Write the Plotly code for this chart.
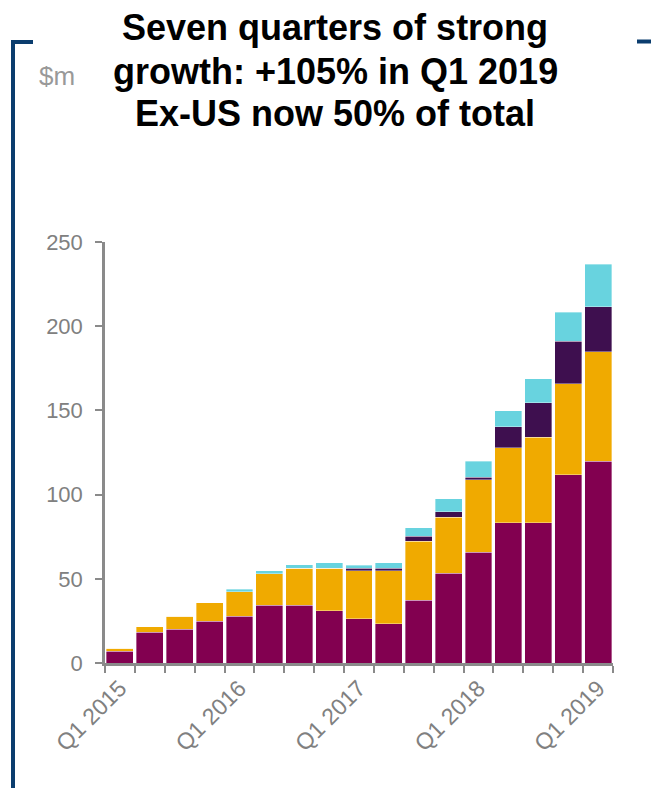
import plotly.graph_objects as go

quarters = ["Q1 2015", "Q2 2015", "Q3 2015", "Q4 2015",
            "Q1 2016", "Q2 2016", "Q3 2016", "Q4 2016",
            "Q1 2017", "Q2 2017", "Q3 2017", "Q4 2017",
            "Q1 2018", "Q2 2018", "Q3 2018", "Q4 2018",
            "Q1 2019"]
series_a = [7.1, 18.4, 20.0, 24.8, 27.9, 34.3, 34.3, 30.9, 26.4, 23.2, 37.4, 53.3, 65.9, 83.4, 83.4, 111.9, 119.8]
series_b = [1.8, 3.2, 7.9, 11.1, 14.5, 18.8, 22.1, 25.5, 28.5, 31.7, 34.9, 33.2, 42.8, 44.3, 50.6, 53.8, 64.9]
series_c = [0, 0, 0, 0, 0, 0, 0, 0, 1.5, 1.5, 3.1, 3.2, 1.6, 12.7, 20.6, 25.3, 26.9]
series_d = [0, 0, 0, 0, 1.4, 1.8, 1.8, 3.2, 1.6, 3.2, 4.8, 7.9, 9.5, 9.5, 14.3, 17.4, 25.3]
y_ticks = [0, 50, 100, 150, 200, 250]
x_label_idx = [0, 4, 8, 12, 16]

colors = ["#820050", "#F0AA00", "#3E0F4F", "#68D3DF"]
W, H = 651, 788
L, R, T, B = 105, 38, 242, 125
plot_h = H - T - B
plot_w = W - L - R

def py(px):
    return (H - B - px) / plot_h

def px_(x):
    return (x - L) / plot_w

xs = list(range(len(quarters)))
fig = go.Figure()
for vals, c in zip([series_a, series_b, series_c, series_d], colors):
    fig.add_trace(go.Bar(x=xs, y=vals, marker=dict(color=c, line=dict(width=0.6, color="rgba(255,255,255,0.6)")),
                         hoverinfo="skip", showlegend=False))

grey = "#8a8a8a"
fig.update_layout(
    barmode="stack", bargap=0.1,
    width=W, height=H,
    margin=dict(l=L, r=R, t=T, b=B, autoexpand=False),
    paper_bgcolor="white", plot_bgcolor="white",
    font=dict(family="Liberation Sans, Arial, sans-serif", color="#7f7f7f"),
    xaxis=dict(range=[-0.5, len(quarters) - 0.5], tickvals=[xs[i] for i in x_label_idx],
               ticktext=[quarters[i] for i in x_label_idx], tickangle=-45,
               ticks="", showline=True, linecolor=grey, linewidth=2.5,
               tickfont=dict(size=23, color="#808080"), showgrid=False, zeroline=False,
               minor=dict(tickvals=[i - 0.5 for i in range(len(quarters) + 1)], ticks="outside",
                          ticklen=7, tickwidth=2, tickcolor=grey, showgrid=False)),
    yaxis=dict(range=[0, 250], tickvals=y_ticks, ticks="outside", ticklen=7, tickwidth=2,
               tickcolor=grey, showline=True, linecolor=grey, linewidth=2.5,
               tickfont=dict(size=22, color="#808080"), showgrid=False, zeroline=False,
               ticklabelstandoff=8),
)

title_lines = [("Seven quarters of strong", 27), ("growth: +105% in Q1 2019", 71), ("Ex-US now 50% of total", 113)]
for txt, ypx in title_lines:
    fig.add_annotation(text="<b>" + txt + "</b>", xref="paper", yref="paper", x=px_(335), y=py(ypx),
                       xanchor="center", yanchor="middle", showarrow=False,
                       font=dict(size=36, color="black", family="Liberation Sans, Arial, sans-serif"))
fig.add_annotation(text="$m", xref="paper", yref="paper", x=px_(37), y=py(76), xanchor="left", yanchor="middle",
                   showarrow=False, font=dict(size=26, color="#999999"))

navy = "#0B3D6E"
fig.add_shape(type="line", xref="paper", yref="paper", x0=px_(13), x1=px_(13), y0=py(40), y1=py(790),
              line=dict(color=navy, width=4))
fig.add_shape(type="line", xref="paper", yref="paper", x0=px_(11), x1=px_(33), y0=py(42), y1=py(42),
              line=dict(color=navy, width=4))
fig.add_shape(type="line", xref="paper", yref="paper", x0=px_(637), x1=px_(652), y0=py(41.5), y1=py(41.5),
              line=dict(color=navy, width=4))

fig.write_html("out.html")
